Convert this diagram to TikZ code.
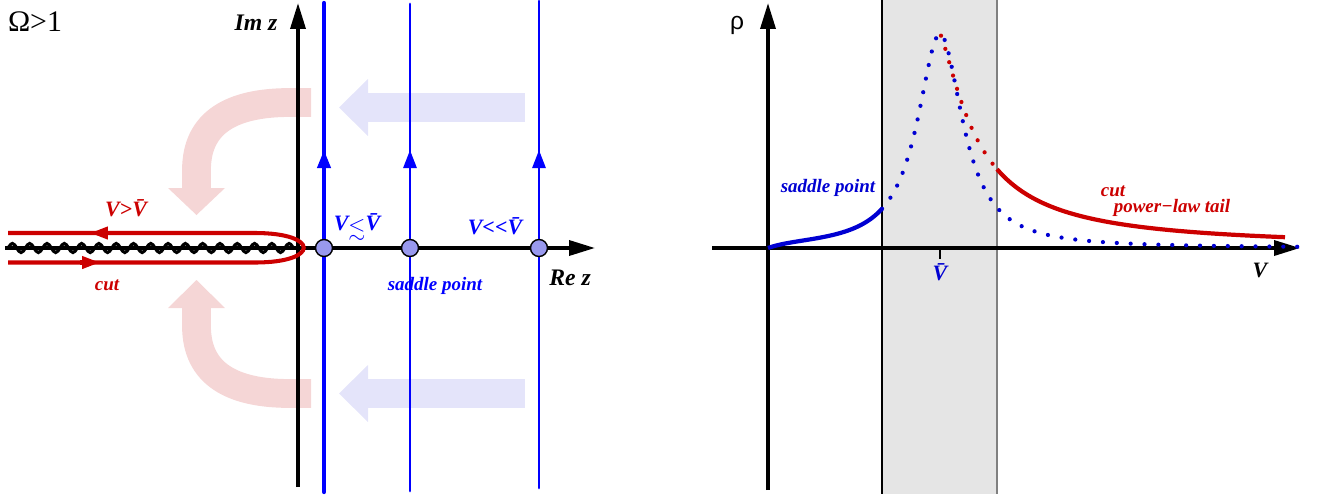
\documentclass[tikz,border=0pt]{standalone}
\usepackage{fontspec}
\usepackage{amssymb}
\setmainfont{Liberation Serif}
\newfontfamily\sansf{Liberation Sans}
\usetikzlibrary{arrows.meta,decorations.pathmorphing}
\definecolor{pinkband}{RGB}{245,214,214}
\definecolor{blueband}{RGB}{228,228,250}
\definecolor{cred}{RGB}{204,0,0}
\definecolor{cblue}{RGB}{0,0,255}
\definecolor{dblue}{RGB}{0,0,210}
\definecolor{cfill}{RGB}{153,153,238}
\newcommand\Vbar{\=V}
\begin{document}
\begin{tikzpicture}[x=0.02cm,y=-0.02cm,
  axis/.style={line width=2pt,-{Triangle[length=0.52cm,width=0.3cm]}},
  lab/.style={font=\fontsize{12.5}{14}\selectfont\bfseries\itshape, inner sep=0pt},
  small/.style={font=\fontsize{10.8}{12}\selectfont\bfseries\itshape, inner sep=0pt},
  big/.style={font=\fontsize{13.5}{15}\selectfont\bfseries\itshape, inner sep=0pt},
  pband/.style={pinkband,line width=16.4pt},
  bband/.style={blueband,line width=16.4pt},
  cont/.style={cblue,line cap=round},
  upar/.style={cblue,line width=1.6pt,-{Triangle[length=0.36cm,width=0.26cm]}},
  redar/.style={cred,line width=2.3pt,-{Triangle[length=0.36cm,width=0.24cm]}},
  sp/.style={circle,draw=black,line width=0.8pt,fill=cfill,minimum size=0.34cm,inner sep=0pt},
  dots/.style={line width=2.4pt,dash pattern=on 0pt off 7.9pt,line cap=round},
]
\useasboundingbox (0,0) rectangle (1318,494);

% ---------------- left panel ----------------
% pale flow arrows
\draw[pband] (311,102.5) -- (290,102.5) .. controls (232,102.5) and (196.5,122) .. (196.5,170) -- (196.5,189);
\fill[pinkband] (168,188) -- (225,188) -- (196.5,215) -- cycle;
\draw[pband] (311,393.5) -- (290,393.5) .. controls (232,393.5) and (196.5,374) .. (196.5,326) -- (196.5,307);
\fill[pinkband] (168,308) -- (225,308) -- (196.5,280) -- cycle;
\draw[bband] (525,107.5) -- (367,107.5);
\fill[blueband] (368,79) -- (368,136) -- (339,107.5) -- cycle;
\draw[bband] (525,393.5) -- (367,393.5);
\fill[blueband] (368,365) -- (368,422) -- (339,393.5) -- cycle;

% axes
\coordinate (imb) at (298,487);
\coordinate (imt) at (298,3);
\coordinate (rel) at (5,248);
\coordinate (rer) at (595,248);
\coordinate (cutst) at (7,248);
\coordinate (cutend) at (296,248);
\draw[axis] (imb) -- (imt);
\draw[axis] (rel) -- (rer);
\draw[line width=1.8pt, decorate, decoration={snake, segment length=0.346cm, amplitude=0.09cm}] (cutst) -- (cutend);

% red hairpin contour
\draw[cred, line width=2.3pt] (8,233) -- (255,233) .. controls (320,233) and (320,262.5) .. (255,262.5) -- (8,262.5);
\draw[redar] (115,233) -- (90,233);
\draw[redar] (80,262.5) -- (100,262.5);

% blue contours
\draw[cont, line width=2.4pt] (324,492) -- (324,3);
\draw[cont, line width=1.6pt] (410,491) -- (410,4);
\draw[cont, line width=1.6pt] (539,488) -- (539,1);
\draw[upar, line width=2.2pt] (324,180) -- (324,150);
\draw[upar] (410,180) -- (410,150);
\draw[upar] (539,180) -- (539,150);

\node[sp] (s1) at (324,248) {};
\node[sp] (s2) at (410,248) {};
\node[sp] (s3) at (539,248) {};

\node[font=\fontsize{17}{20}\selectfont, inner sep=0pt] (om) at (35,22) {Ω>1};
\node[big] (imz) at (256,23) {Im z};
\node[big] (rez) at (570,278) {Re z};
\node[lab,text=cred] (vgt) at (126,208) {V>\Vbar};
\node[small,text=cred] (cutl) at (107,285) {cut};
\node[lab,text=cblue] (vle) at (357,227) {V\raisebox{-2.5pt}{$\lesssim$}\Vbar};
\node[lab,text=cblue] (vll) at (495,226) {V<\kern0pt<\kern0pt\Vbar};
\node[small,text=cblue] (spl) at (435,286) {saddle point};

% ---------------- right panel ----------------
\fill[gray!20] (882,0) rectangle (997,494);
\draw[line width=0.6pt] (882,0) -- (882,494);
\draw[gray, line width=1pt] (997,0) -- (997,494);

\coordinate (vl) at (712,248);
\coordinate (vr) at (1300,248);
\coordinate (rb) at (768,490);
\coordinate (rt) at (768,3);
\draw[axis] (vl) -- (vr);
\draw[axis] (rb) -- (rt);
\coordinate (tk1) at (940,248);
\coordinate (tk2) at (940,259);
\draw[line width=1pt] (tk1) -- (tk2);

\draw[dblue, line width=2.4pt] plot[domain=768:882,samples=60]
  (\x,{248-214/(1+((\x-940)/27.5)*((\x-940)/27.5))*(1-exp(-(\x-768)/15))});
\draw[dblue, dots] plot[domain=882:1303,samples=250]
  (\x,{248-214/(1+((\x-940)/27.5)*((\x-940)/27.5))});
\draw[cred, dots] plot[domain=941:997,samples=60]
  (\x,{248-214/(1+((\x-940)/38)^1.33)});
\draw[cred, line width=2.4pt] plot[domain=997:1285,samples=120]
  (\x,{248-214/(1+((\x-940)/38)^1.33)});

\node[font=\sansf\fontsize{14}{16}\selectfont, inner sep=0pt] (rho) at (737,25) {ρ};
\node[small,text=dblue] (spr) at (828,188) {saddle point};
\node[small,text=cred] (cutr) at (1113,191) {cut};
\node[small,text=cred] (plt) at (1172,208) {power−law tail};
\node[lab,text=dblue] (vb) at (940,272) {\Vbar};
\node[lab] (vax) at (1260,270) {V};
\end{tikzpicture}
\end{document}
